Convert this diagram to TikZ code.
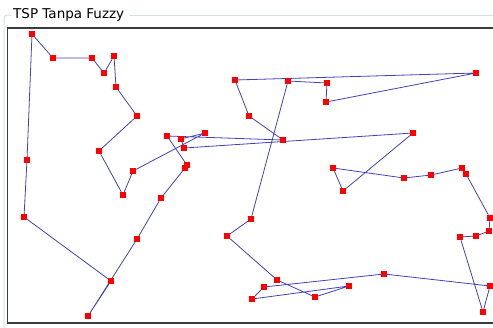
\documentclass[tikz,border=0pt]{standalone}
\usepackage{fontspec}
\newfontfamily\guifont{DejaVu Sans}
\usetikzlibrary{backgrounds}
\definecolor{tourblue}{RGB}{66,66,186}
\definecolor{framegray}{RGB}{214,222,228}
\definecolor{paneledge}{RGB}{60,60,60}

\begin{document}
\begin{tikzpicture}[x=1pt,y=-1pt,line cap=round,
  city/.style={fill=red,inner sep=0pt,minimum size=6pt},
  tour/.style={tourblue,line width=0.8pt}]
\useasboundingbox (0,0) rectangle (493,327);
\clip (0,0) rectangle (493,327);
% group box
\draw[framegray,line width=1pt,rounded corners=3pt] (11,15) -- (4,15) -- (4,340);
\draw[framegray,line width=1pt] (130,15) -- (500,15);
\node[anchor=base west,inner sep=0pt,font=\guifont\fontsize{13.5}{16}\selectfont] (title) at (13,18) {TSP Tanpa Fuzzy};
% plot panel
\draw[paneledge,line width=1.4pt] (7.5,323) -- (7.5,28) -- (500,28);
\draw[paneledge,line width=1.4pt] (7.5,323) -- (500,323);
% cities
\node[city] (t1) at (32,34) {};
\node[city] (t2) at (53,58) {};
\node[city] (t3) at (92,58) {};
\node[city] (t4) at (104,73) {};
\node[city] (t5) at (114,56) {};
\node[city] (t6) at (116,87) {};
\node[city] (t7) at (137,116) {};
\node[city] (t8) at (99,151) {};
\node[city] (t9) at (123,195) {};
\node[city] (t10) at (133,171) {};
\node[city] (t11) at (205,133) {};
\node[city] (t12) at (181,139) {};
\node[city] (t13) at (184,148) {};
\node[city] (t14) at (413,133) {};
\node[city] (t15) at (343,191) {};
\node[city] (t16) at (333,168) {};
\node[city] (t17) at (404,178) {};
\node[city] (t18) at (431,175) {};
\node[city] (t19) at (462,168) {};
\node[city] (t20) at (466,174) {};
\node[city] (t21) at (490,218) {};
\node[city] (t22) at (489,231) {};
\node[city] (t23) at (476,236) {};
\node[city] (t24) at (460,237) {};
\node[city] (t25) at (483,312) {};
\node[city] (t26) at (490,286) {};
\node[city] (t27) at (384,274) {};
\node[city] (t28) at (264,287) {};
\node[city] (t29) at (252,299) {};
\node[city] (t30) at (349,286) {};
\node[city] (t31) at (315,297) {};
\node[city] (t32) at (277,280) {};
\node[city] (t33) at (227,236) {};
\node[city] (t34) at (251,219) {};
\node[city] (t35) at (288,81) {};
\node[city] (t36) at (327,83) {};
\node[city] (t37) at (326,102) {};
\node[city] (t38) at (476,73) {};
\node[city] (t39) at (235,80) {};
\node[city] (t40) at (249,116) {};
\node[city] (t41) at (283,140) {};
\node[city] (t42) at (167,136) {};
\node[city] (t43) at (187,165) {};
\node[city] (t44) at (185,168) {};
\node[city] (t45) at (161,198) {};
\node[city] (t46) at (137,239) {};
\node[city] (t47) at (88,316) {};
\node[city] (t48) at (111,281) {};
\node[city] (t49) at (24,217) {};
\node[city] (t50) at (27,160) {};
% route
\begin{pgfonlayer}{background}
\fill[white] (0,0) rectangle (493,327);
\draw[tour] (t1) -- (t2) -- (t3) -- (t4) -- (t5) -- (t6) -- (t7) -- (t8) -- (t9) -- (t10)
  -- (t11) -- (t12) -- (t13) -- (t14) -- (t15) -- (t16) -- (t17) -- (t18) -- (t19) -- (t20)
  -- (t21) -- (t22) -- (t23) -- (t24) -- (t25) -- (t26) -- (t27) -- (t28) -- (t29) -- (t30)
  -- (t31) -- (t32) -- (t33) -- (t34) -- (t35) -- (t36) -- (t37) -- (t38) -- (t39) -- (t40)
  -- (t41) -- (t42) -- (t43) -- (t44) -- (t45) -- (t46) -- (t47) -- (t48) -- (t49) -- (t50)
  -- (t1);
\end{pgfonlayer}
\end{tikzpicture}
\end{document}
